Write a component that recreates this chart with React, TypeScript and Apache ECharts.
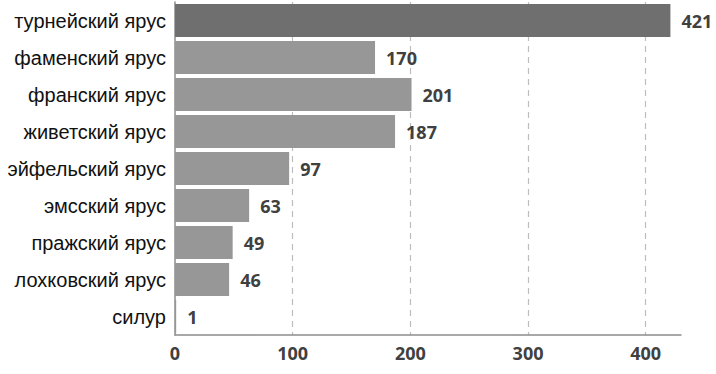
import React, { useEffect, useRef } from "react";
import * as echarts from "echarts";

const categories = [
  "турнейский ярус",
  "фаменский ярус",
  "франский ярус",
  "живетский ярус",
  "эйфельский ярус",
  "эмсский ярус",
  "пражский ярус",
  "лохковский ярус",
  "силур",
];
const values = [421, 170, 201, 187, 97, 63, 49, 46, 1];
const barColors = ["#6f6f6f", "#979797", "#979797", "#979797", "#979797", "#979797", "#979797", "#979797", "#979797"];

export default function App() {
  const ref = useRef<HTMLDivElement>(null);
  useEffect(() => {
    if (!ref.current) return;
    const chart = echarts.init(ref.current, null, { renderer: "svg" });
    chart.setOption({
      animation: false,
      grid: { left: 175, right: 35, top: 2, bottom: 39, containLabel: false },
      xAxis: {
        type: "value",
        min: 0,
        max: 430,
        interval: 100,
        axisLine: { show: true, lineStyle: { color: "#8c8c8c", width: 1.5 } },
        axisTick: { show: false },
        axisLabel: {
          showMaxLabel: false,
          margin: 9,
          color: "#404040",
          fontFamily: "Open Sans",
          fontWeight: "bold",
          fontSize: 18,
        },
        splitLine: {
          show: true,
          showMinLine: false,
          showMaxLine: false,
          lineStyle: { color: "#bdbdbd", type: [6, 5], width: 1.2 },
        },
      },
      yAxis: {
        type: "category",
        inverse: true,
        data: categories,
        axisLine: { show: true, lineStyle: { color: "#8c8c8c", width: 1.5 } },
        axisTick: { show: false },
        axisLabel: {
          margin: 9,
          color: "#111111",
          fontFamily: "Liberation Sans",
          fontSize: 20,
        },
      },
      series: [
        {
          type: "bar",
          data: values.map((v, i) => ({ value: v, itemStyle: { color: barColors[i] } })),
          barCategoryGap: "11%",
          label: {
            show: true,
            position: "right",
            distance: 11,
            color: "#404040",
            fontFamily: "Open Sans",
            fontWeight: "bold",
            fontSize: 18,
          },
        },
      ],
    });
    return () => chart.dispose();
  }, []);
  return <div ref={ref} style={{ width: 716, height: 374, position: "absolute", left: 0, top: 0, background: "#fff" }} />;
}
